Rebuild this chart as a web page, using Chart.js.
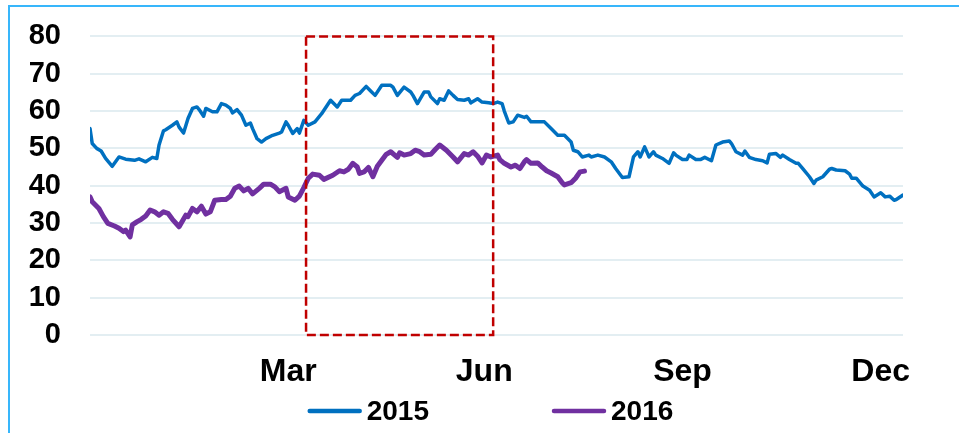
<!DOCTYPE html>
<html>
<head>
<meta charset="utf-8">
<script src="https://cdn.jsdelivr.net/npm/chart.js@4.4.0/dist/chart.umd.min.js"></script>
<style>
  html, body { margin: 0; padding: 0; background: #fff; }
  #wrap { position: relative; width: 959px; height: 433px; }
  #chart { display: block; }
  #frame {
    position: absolute; left: 8px; top: 5px; right: 0; bottom: 0;
    border-left: 2px solid #38b6fb; border-top: 2px solid #38b6fb;
    pointer-events: none;
  }
</style>
</head>
<body>
<div id="wrap">
  <canvas id="chart" width="959" height="433"></canvas>
  <div id="frame"></div>
</div>
<script>
// day of year (0..365) and value
var days2015 = [
  0, 1, 3, 5, 7, 10, 13, 16, 20, 22,
  25, 28, 30, 31, 33, 34, 37, 39, 40, 42,
  44, 46, 48, 49, 51, 52, 55, 57, 59, 61,
  63, 64, 66, 68, 70, 72, 73, 75, 77, 79,
  82, 85, 86, 88, 89, 91, 93, 94, 96, 98,
  101, 104, 108, 111, 113, 117, 119, 121, 124, 126,
  128, 131, 135, 136, 138, 141, 144, 145, 147, 150,
  152, 153, 156, 157, 159, 161, 163, 165, 168, 170,
  171, 174, 176, 179, 181, 183, 185, 186, 188, 190,
  192, 195, 196, 198, 201, 204, 207, 210, 213, 216,
  217, 219, 221, 224, 225, 228, 231, 234, 236, 239,
  242, 244, 246, 247, 249, 251, 253, 254, 257, 260,
  262, 263, 266, 268, 269, 272, 274, 276, 279, 281,
  284, 287, 288, 290, 293, 294, 296, 299, 302, 304,
  305, 308, 310, 311, 314, 317, 318, 320, 323, 325,
  326, 329, 332, 333, 335, 339, 341, 342, 344, 347,
  350, 352, 355, 357, 359, 361, 362, 365
];
var vals2015 = [
  55.3, 51.3, 50, 49.3, 47.3, 45.2, 47.7, 47.1, 46.8, 47.2,
  46.4, 47.6, 47.3, 50.9, 54.7, 55, 56.2, 57.1, 55.7, 54.1,
  58, 60.7, 61.1, 60.4, 58.6, 60.7, 59.8, 59.8, 62, 61.6,
  60.7, 59.5, 60.4, 58.9, 56.2, 56.8, 55.3, 52.6, 51.7, 52.6,
  53.5, 54.1, 54.4, 57.1, 56.2, 54, 55.3, 54.1, 57.5, 56.2,
  57.1, 59.3, 62.9, 61.1, 62.9, 62.9, 64.2, 64.7, 66.6, 65.4,
  64.2, 66.9, 66.9, 66.4, 64.2, 66.4, 65.1, 64.2, 62, 65.1,
  65.1, 63.8, 62, 63.3, 62.9, 65.4, 64.2, 63.1, 62.9, 63.3,
  62.2, 63.3, 62.4, 62.2, 62, 62.4, 62, 60, 56.8, 57.1,
  58.9, 58.3, 58.6, 57.1, 57.1, 57.1, 55.3, 53.5, 53.5, 51.7,
  49.5, 49.1, 47.7, 48.2, 47.7, 48.2, 47.7, 46.4, 44.6, 42.2,
  42.4, 47.7, 49.1, 47.7, 50.4, 47.7, 49.1, 48.2, 47.3, 46,
  48.8, 48.2, 47, 47, 48.2, 47, 47, 47.6, 46.7, 50.9,
  51.7, 52, 51.3, 49.1, 48.2, 49.3, 47.6, 47, 46.7, 46.1,
  48.4, 48.6, 47.6, 48.2, 47, 46, 46, 44.6, 42.4, 40.6,
  41.5, 42.4, 44.4, 44.6, 44.2, 44, 43.1, 42, 42, 39.9,
  38.8, 37, 38.1, 37, 37.2, 36.1, 36.3, 37.5
];

var days2016 = [
  0, 1, 4, 6, 8, 11, 13, 15, 16, 18,
  19, 21, 23, 25, 27, 29, 31, 33, 35, 37,
  40, 43, 44, 46, 48, 50, 52, 54, 56, 59,
  61, 63, 65, 67, 69, 71, 73, 76, 78, 81,
  83, 85, 88, 89, 92, 94, 96, 98, 100, 103,
  105, 109, 112, 114, 116, 118, 120, 121, 123, 125,
  127, 129, 131, 133, 135, 138, 139, 141, 144, 146,
  148, 150, 153, 155, 157, 160, 163, 165, 168, 170,
  172, 174, 176, 178, 180, 183, 184, 186, 189, 191,
  193, 195, 196, 198, 201, 203, 205, 207, 210, 212,
  213, 216, 218, 220, 222
];
var vals2016 = [
  37, 35.7, 33.9, 31.7, 29.9, 29.2, 28.6, 27.7, 28.1, 26.3,
  29.5, 30.3, 31, 31.9, 33.5, 33, 32.1, 33, 32.6, 31,
  29, 32.1, 31.7, 33.9, 33, 34.5, 32.4, 33, 36.1, 36.3,
  36.3, 37.2, 39.3, 39.9, 38.6, 39.3, 37.8, 39.3, 40.4, 40.4,
  39.7, 38.4, 39.3, 37, 36.1, 37.2, 39.5, 42, 43.1, 42.8,
  41.7, 42.8, 44, 43.7, 44.4, 46, 45, 43.3, 43.7, 44.9,
  42.4, 45.2, 46.8, 48.4, 49.1, 47.6, 48.8, 48.2, 48.6, 49.5,
  49.1, 48.2, 48.4, 49.7, 50.9, 49.5, 47.7, 46.4, 48.6, 48.2,
  49.1, 47.9, 46.1, 48.2, 47.7, 48.2, 47, 46, 45, 45.5,
  44.6, 46.4, 47, 46, 46.1, 45, 44, 43.4, 42.4, 40.8,
  40.2, 40.8, 42, 43.7, 43.9
];

var tickDays = [89, 177, 266, 355];
var tickLabels = ["Mar", "Jun", "Sep", "Dec"];

// highlighted period (days) over the full value range
var boxDays = [97, 181];
var boxValues = [0, 80];

function toPoints(days, vals) {
  return days.map(function(d, i) { return { x: d, y: vals[i] }; });
}

var focusBox = {
  id: "focusBox",
  afterDatasetsDraw: function(chart) {
    var xs = chart.scales.x, ys = chart.scales.y, ctx = chart.ctx;
    var left = xs.getPixelForValue(boxDays[0]);
    var right = xs.getPixelForValue(boxDays[1]);
    var top = ys.getPixelForValue(boxValues[1]);
    var bottom = ys.getPixelForValue(boxValues[0]);
    ctx.save();
    ctx.strokeStyle = "#c00000";
    ctx.lineWidth = 2.5;
    ctx.setLineDash([9, 4]);
    ctx.strokeRect(left, top, right - left, bottom - top);
    ctx.restore();
  }
};

var bottomLegend = {
  id: "bottomLegend",
  afterDraw: function(chart) {
    var ctx = chart.ctx, area = chart.chartArea;
    var sets = chart.data.datasets;
    var lineLen = 54, gap = 5, spacing = 123;
    ctx.save();
    ctx.font = "bold 28px 'Liberation Sans', Arial, sans-serif";
    ctx.textBaseline = "middle";
    ctx.textAlign = "left";
    var widths = sets.map(function(d) { return ctx.measureText(d.label).width; });
    var total = spacing * (sets.length - 1);
    widths.forEach(function(w) { total += lineLen + gap + w; });
    var x = (area.left + area.right) / 2 - total / 2 - 6;
    var y = chart.height - 22;
    sets.forEach(function(d, i) {
      ctx.strokeStyle = d.borderColor;
      ctx.lineWidth = 4.5;
      ctx.lineCap = "round";
      ctx.beginPath();
      ctx.moveTo(x + 2, y);
      ctx.lineTo(x + lineLen - 2, y);
      ctx.stroke();
      ctx.fillStyle = "#000";
      ctx.fillText(d.label, x + lineLen + gap, y + 1);
      x += lineLen + gap + widths[i] + spacing;
    });
    ctx.restore();
  }
};

Chart.defaults.font.family = "'Liberation Sans', Arial, sans-serif";

var ctx = document.getElementById("chart").getContext("2d");
var chart = new Chart(ctx, {
  type: "line",
  data: {
    datasets: [
      {
        label: "2015",
        data: toPoints(days2015, vals2015),
        borderColor: "#0070c0",
        backgroundColor: "#0070c0",
        borderWidth: 3.5,
        pointRadius: 0,
        tension: 0,
        borderJoinStyle: "round",
        borderCapStyle: "round"
      },
      {
        label: "2016",
        data: toPoints(days2016, vals2016),
        borderColor: "#7030a0",
        backgroundColor: "#7030a0",
        borderWidth: 5,
        pointRadius: 0,
        tension: 0,
        borderJoinStyle: "round",
        borderCapStyle: "round"
      }
    ]
  },
  options: {
    responsive: false,
    animation: false,
    layout: { padding: { left: 10, right: 56, top: 36, bottom: 0 } },
    plugins: {
      legend: { display: false },
      tooltip: { enabled: false }
    },
    scales: {
      x: {
        type: "linear",
        min: 0,
        max: 365,
        grid: { display: false, drawTicks: false },
        border: { display: false },
        afterBuildTicks: function(axis) {
          axis.ticks = tickDays.map(function(d) { return { value: d }; });
        },
        afterFit: function(axis) { axis.height = 98; },
        ticks: {
          autoSkip: false,
          maxRotation: 0,
          padding: 18,
          color: "#000",
          font: { size: 32, weight: "bold" },
          callback: function(value, index) { return tickLabels[index]; }
        }
      },
      y: {
        min: 0,
        max: 80,
        border: { display: false },
        grid: {
          color: "#e3eef2",
          lineWidth: 2,
          drawTicks: true,
          tickLength: 10,
          tickColor: "rgba(0,0,0,0)"
        },
        afterFit: function(axis) { axis.width = 80; },
        ticks: {
          stepSize: 10,
          autoSkip: false,
          padding: 19,
          color: "#000",
          font: { size: 29, weight: "bold" }
        }
      }
    }
  },
  plugins: [focusBox, bottomLegend]
});
</script>
</body>
</html>
